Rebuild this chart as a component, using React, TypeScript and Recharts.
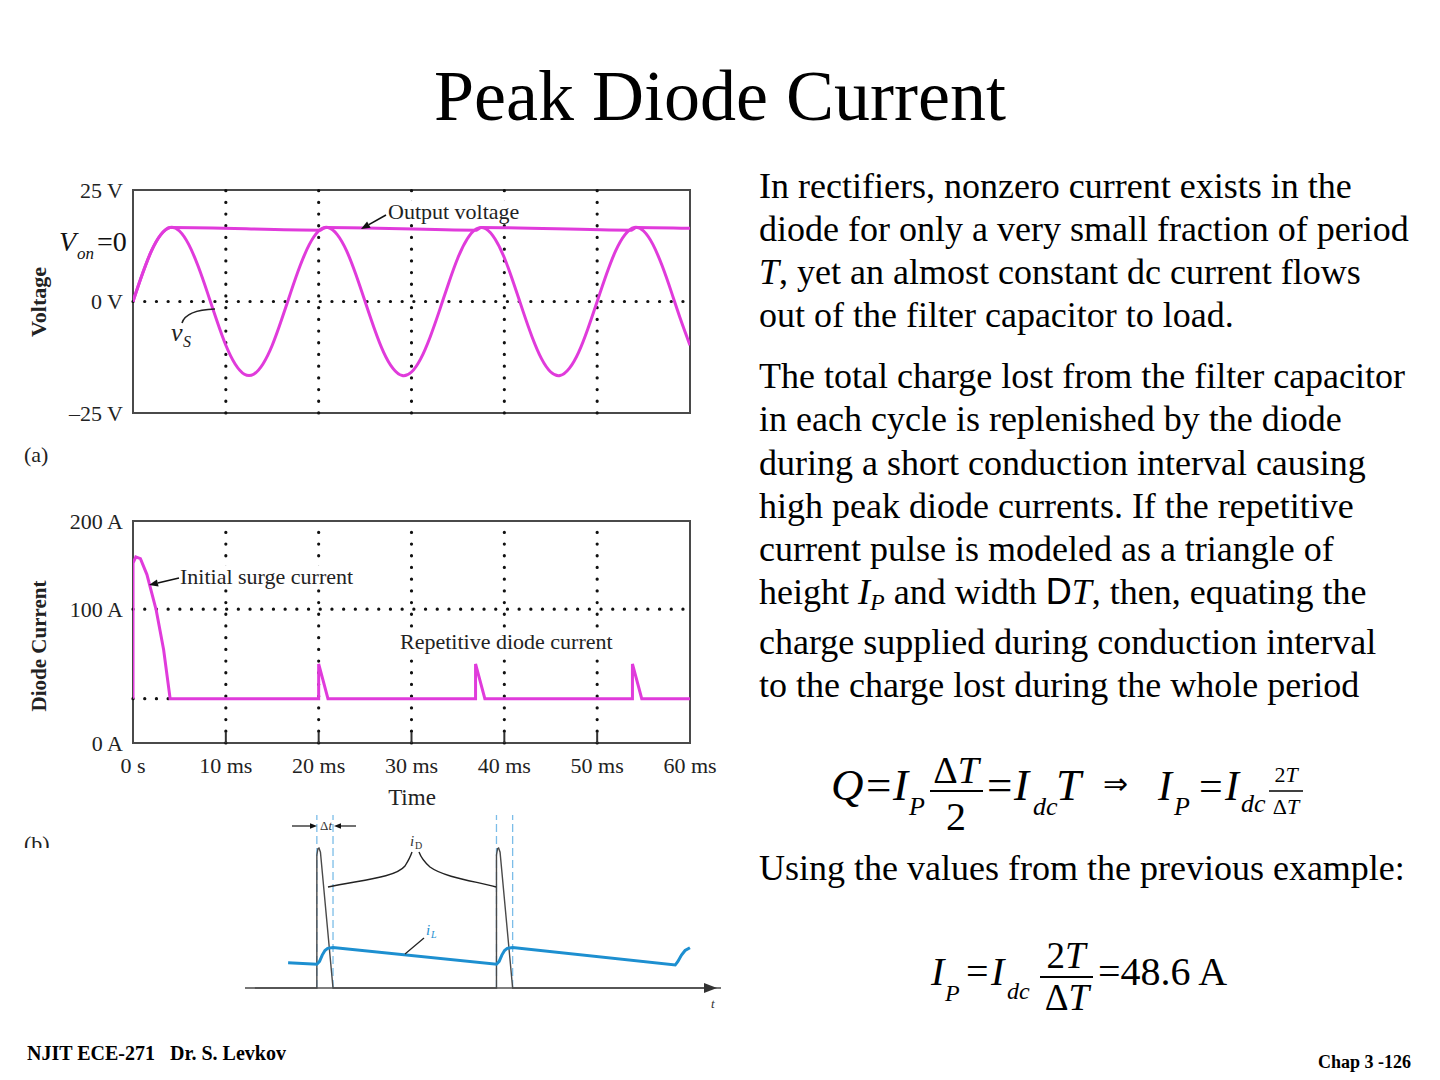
import React from 'react';
import { LineChart, Line, XAxis, YAxis, ReferenceLine, ReferenceArea } from 'recharts';

const MAGENTA = '#e03bdb';
const BLUE = '#1d8fd0';
const SERIF = '"Liberation Serif", "Times New Roman", serif';

// (a) voltage plot, source voltage sampled every 1 ms
const timeMs = [
  0, 1, 2, 3, 4, 5, 6, 7, 8, 9, 10, 11, 12, 13, 14, 15, 16, 17, 18, 19, 20,
  21, 22, 23, 24, 25, 26, 27, 28, 29, 30, 31, 32, 33, 34, 35, 36, 37, 38, 39, 40,
  41, 42, 43, 44, 45, 46, 47, 48, 49, 50, 51, 52, 53, 54, 55, 56, 57, 58, 59, 60,
];
const sourceVolts = [
  0, 6.1, 11.4, 15.0, 16.6, 15.8, 12.8, 8.0, 2.1, -4.1, -9.8, -14.0, -16.3, -16.3, -14.0, -9.8, -4.1, 2.1, 8.0, 12.8, 15.8,
  16.6, 15.0, 11.4, 6.1, 0, -6.1, -11.4, -15.0, -16.6, -15.8, -12.8, -8.0, -2.1, 4.1, 9.8, 14.0, 16.3, 16.3, 14.0, 9.8,
  4.1, -2.1, -8.0, -12.8, -15.8, -16.6, -15.0, -11.4, -6.1, 0, 6.1, 11.4, 15.0, 16.6, 15.8, 12.8, 8.0, 2.1, -4.1, -9.8,
];
const outputTimes = [0, 1, 2, 3, 4, 4.2, 20.2, 20.5, 20.8, 37.0, 37.3, 37.5, 53.7, 54.0, 54.2, 60];
const outputVolts = [0, 6.1, 11.4, 15.0, 16.6, 16.6, 16.0, 16.4, 16.6, 16.0, 16.4, 16.6, 16.0, 16.4, 16.6, 16.4];
const voltTicks = [-25, 0, 25];
const gridTimes = [10, 20, 30, 40, 50];
const timeTicks = [0, 10, 20, 30, 40, 50, 60];

// (b) diode current
const diodeTimes = [0, 0, 0.3, 0.8, 1.5, 2.5, 3.3, 4.0, 20.0, 20.0, 21.0, 36.9, 36.9, 37.9, 53.8, 53.8, 54.8, 60];
const diodeAmps = [22, 150, 157, 155, 137, 99, 61, 22, 22, 48.6, 22, 22, 48.6, 22, 22, 48.6, 22, 22];
const ampTicks = [0, 100, 200];
const baselineAmps = 22;
const bottomTickAmps = 3;

// (c) sketch of i_D pulses and load current i_L (time in periods)
const iDTimes = [-0.4, 0, 0, 0.006, 0.012, 0.02, 0.09, 1.0, 1.0, 1.006, 1.012, 1.02, 1.09, 2.25];
const iDValues = [0, 0, 0.95, 0.995, 1.0, 0.97, 0, 0, 0.95, 0.995, 1.0, 0.97, 0, 0];
const iLTimes = [-0.16, 0, 0.015, 0.03, 0.045, 0.06, 0.09, 1.0, 1.015, 1.03, 1.045, 1.06, 1.09, 1.995, 2.01, 2.03, 2.05, 2.077];
const iLValues = [0.18, 0.17, 0.19, 0.235, 0.268, 0.283, 0.29, 0.17, 0.19, 0.235, 0.268, 0.283, 0.29, 0.164, 0.19, 0.235, 0.268, 0.288];
const conductionEdges = [0, 0.09, 1.0, 1.09];

const zip = (xs: number[], ys: number[]) => xs.map((x, i) => ({ x, y: ys[i] }));

// power scale so 100 A sits where the original figure puts it
function powScale(exp: number): any {
  let dom = [0, 1];
  let rng = [0, 1];
  const s: any = (v: number) => {
    const t = (v - dom[0]) / (dom[1] - dom[0]);
    const p = Math.sign(t) * Math.pow(Math.abs(t), exp);
    return rng[0] + p * (rng[1] - rng[0]);
  };
  s.domain = (d?: number[]) => {
    if (d) { dom = [Number(d[0]), Number(d[d.length - 1])]; return s; }
    return dom.slice();
  };
  s.range = (r?: number[]) => {
    if (r) { rng = [Number(r[0]), Number(r[r.length - 1])]; return s; }
    return rng.slice();
  };
  s.invert = (px: number) => {
    const p = (px - rng[0]) / (rng[1] - rng[0]);
    return dom[0] + Math.sign(p) * Math.pow(Math.abs(p), 1 / exp) * (dom[1] - dom[0]);
  };
  s.ticks = () => ampTicks.slice();
  s.tickFormat = () => (v: number) => String(v);
  s.nice = () => s;
  s.clamp = () => s;
  s.copy = () => powScale(exp).domain(dom).range(rng);
  return s;
}

const tickStyle = { fill: '#222', fontSize: 22, fontFamily: SERIF };
const dotted = { stroke: '#111', strokeWidth: 3.2, strokeDasharray: '0.1 11.6', strokeLinecap: 'round' as const };

const VoltageChart = () => (
  <LineChart width={700} height={270} margin={{ top: 20, right: 30, bottom: 27, left: 33 }}>
    <XAxis type="number" dataKey="x" domain={[0, 60]} hide allowDataOverflow />
    <YAxis
      type="number"
      domain={[-25, 25]}
      ticks={voltTicks}
      width={80}
      axisLine={false}
      tickLine={false}
      tickSize={0}
      tickMargin={10}
      tick={tickStyle}
      tickFormatter={(v: number) => (v < 0 ? `\u2013${-v} V` : `${v} V`)}
      allowDataOverflow
    />
    {gridTimes.map((t) => (
      <ReferenceLine key={t} x={t} {...dotted} />
    ))}
    <ReferenceLine y={0} {...dotted} />
    <ReferenceArea x1={0} x2={60} y1={-25} y2={25} fill="none" stroke="#4a4a4a" strokeWidth={2} />
    <Line data={zip(timeMs, sourceVolts)} dataKey="y" type="natural" stroke={MAGENTA} strokeWidth={3} dot={false} isAnimationActive={false} />
    <Line data={zip(outputTimes, outputVolts)} dataKey="y" type="monotone" stroke={MAGENTA} strokeWidth={3} dot={false} isAnimationActive={false} />
  </LineChart>
);

const CurrentChart = () => (
  <LineChart width={710} height={320} margin={{ top: 21, right: 40, bottom: 17, left: 33 }}>
    <XAxis
      type="number"
      dataKey="x"
      domain={[0, 60]}
      ticks={timeTicks}
      height={60}
      axisLine={false}
      tickLine={false}
      tickSize={0}
      tickMargin={14}
      tick={tickStyle}
      tickFormatter={(v: number) => (v === 0 ? '0 s' : `${v} ms`)}
      allowDataOverflow
    />
    <YAxis
      type="number"
      domain={[0, 200]}
      scale={powScale(0.73)}
      ticks={ampTicks}
      width={80}
      axisLine={false}
      tickLine={false}
      tickSize={0}
      tickMargin={10}
      tick={tickStyle}
      tickFormatter={(v: number) => `${v} A`}
      allowDataOverflow
    />
    {gridTimes.map((t) => (
      <ReferenceLine key={t} x={t} {...dotted} />
    ))}
    {gridTimes.map((t) => (
      <ReferenceLine key={`tick${t}`} segment={[{ x: t, y: 0 }, { x: t, y: bottomTickAmps }]} stroke="#333" strokeWidth={2} />
    ))}
    <ReferenceLine y={100} {...dotted} />
    <ReferenceLine segment={[{ x: 0, y: baselineAmps }, { x: 4, y: baselineAmps }]} {...dotted} />
    <ReferenceArea x1={0} x2={60} y1={0} y2={200} fill="none" stroke="#4a4a4a" strokeWidth={2} />
    <Line data={zip(diodeTimes, diodeAmps)} dataKey="y" type="linear" stroke={MAGENTA} strokeWidth={3} dot={false} isAnimationActive={false} />
  </LineChart>
);

const SketchChart = () => (
  <LineChart width={476} height={203} margin={{ top: 0, right: 0, bottom: 0, left: 0 }}>
    <XAxis type="number" dataKey="x" domain={[-0.4, 2.25]} hide allowDataOverflow />
    <YAxis type="number" domain={[-0.15, 1.3]} hide allowDataOverflow />
    {conductionEdges.map((e) => (
      <ReferenceLine key={e} segment={[{ x: e, y: 0 }, { x: e, y: 1.236 }]} stroke="#7cbde8" strokeWidth={1.3} strokeDasharray="8 4" />
    ))}
    <ReferenceLine segment={[{ x: -0.345, y: 0 }, { x: 2.2, y: 0 }]} stroke="#555" strokeWidth={1.5} />
    <Line data={zip(iDTimes, iDValues)} dataKey="y" type="linear" stroke="#4a4a4a" strokeWidth={1.4} dot={false} isAnimationActive={false} />
    <Line data={zip(iLTimes, iLValues)} dataKey="y" type="linear" stroke={BLUE} strokeWidth={3} dot={false} isAnimationActive={false} />
  </LineChart>
);

const abs = (left: number, top: number): React.CSSProperties => ({ position: 'absolute', left, top });

const Arrow = ({ x1, y1, x2, y2, size = 9, w = 1.6 }: { x1: number; y1: number; x2: number; y2: number; size?: number; w?: number }) => {
  const a = Math.atan2(y2 - y1, x2 - x1);
  const bx = x2 - size * Math.cos(a);
  const by = y2 - size * Math.sin(a);
  const px = Math.sin(a) * size * 0.4;
  const py = -Math.cos(a) * size * 0.4;
  return (
    <g>
      <line x1={x1} y1={y1} x2={bx} y2={by} stroke="#111" strokeWidth={w} />
      <polygon points={`${x2},${y2} ${bx + px},${by + py} ${bx - px},${by - py}`} fill="#111" />
    </g>
  );
};

// annotation label with a white box behind it, as in the scanned figure
const Label = ({ x, y, w, text }: { x: number; y: number; w: number; text: string }) => (
  <g>
    <rect x={x - 2} y={y - 18} width={w} height={23} fill="#fff" />
    <text x={x} y={y} fontSize={22} fill="#222">{text}</text>
  </g>
);

const Overlay = () => (
  <svg width={1440} height={1080} style={{ position: 'absolute', left: 0, top: 0, pointerEvents: 'none' }} fontFamily={SERIF}>
    <defs>
      <clipPath id="cutb">
        <rect x={0} y={0} width={240} height={848} />
      </clipPath>
    </defs>
    {/* title */}
    <text x={720} y={120} fontSize={72} textAnchor="middle" fill="#000">Peak Diode Current</text>

    {/* (a) annotations */}
    <text x={46} y={302} fontSize={22} fontWeight="bold" textAnchor="middle" transform="rotate(-90 46 302)" fill="#222">Voltage</text>
    <Label x={388} y={219} w={136} text="Output voltage" />
    <Arrow x1={386} y1={215} x2={361} y2={229} />
    <text x={59} y={251} fontSize={28} fontStyle="italic" fill="#111">V</text>
    <text x={77} y={259} fontSize={17} fontStyle="italic" fill="#111">on</text>
    <text x={97} y={251} fontSize={28} fill="#111">=0</text>
    <text x={171} y={341} fontSize={26} fontStyle="italic" fill="#222">v</text>
    <text x={183} y={347} fontSize={16} fontStyle="italic" fill="#222">S</text>
    <path d="M 182 323 Q 186 310 215 309" fill="none" stroke="#222" strokeWidth={1.6} />
    <text x={24} y={462} fontSize={22} fill="#222">(a)</text>

    {/* (b) annotations */}
    <text x={46} y={646} fontSize={21} fontWeight="bold" textAnchor="middle" transform="rotate(-90 46 646)" fill="#222">Diode Current</text>
    <Label x={180} y={584} w={178} text="Initial surge current" />
    <Arrow x1={179} y1={578} x2={149} y2={585} />
    <Label x={400} y={649} w={217} text="Repetitive diode current" />
    <text x={412} y={805} fontSize={23} textAnchor="middle" fill="#222">Time</text>
    <text x={24} y={851} fontSize={22} fill="#222" clipPath="url(#cutb)">(b)</text>

    {/* (c) annotations */}
    <Arrow x1={292} y1={826} x2={317} y2={826} size={7} w={1.2} />
    <Arrow x1={356} y1={826} x2={334} y2={826} size={7} w={1.2} />
    <text x={320} y={830} fontSize={13} fill="#333">
      Δ<tspan fontStyle="italic">t</tspan>
    </text>
    <text x={410} y={846} fontSize={15} fontStyle="italic" fill="#333">i</text>
    <text x={415} y={849} fontSize={10} fill="#333">D</text>
    <path d="M 328 887 C 360 880 395 878 405 866 Q 410 858 412 852 M 419 852 Q 422 860 430 867 C 445 878 480 882 496 887" fill="none" stroke="#222" strokeWidth={1.4} />
    <text x={426} y={935} fontSize={15} fontStyle="italic" fill={BLUE}>i</text>
    <text x={431} y={938} fontSize={10} fontStyle="italic" fill={BLUE}>L</text>
    <line x1={424} y1={938} x2={405} y2={954} stroke="#222" strokeWidth={1.3} />
    <polygon points="704,983 717,988 704,993" fill="#333" />
    <text x={711} y={1008} fontSize={13} fontStyle="italic" fill="#333">t</text>

    {/* right-hand text */}
    <g fontSize={36} fill="#000">
      <text x={759} y={198}>In rectifiers, nonzero current exists in the</text>
      <text x={759} y={241}>diode for only a very small fraction of period</text>
      <text x={759} y={284}><tspan fontStyle="italic">T</tspan>, yet an almost constant dc current flows</text>
      <text x={759} y={327}>out of the filter capacitor to load.</text>
      <text x={759} y={388}>The total charge lost from the filter capacitor</text>
      <text x={759} y={431}>in each cycle is replenished by the diode</text>
      <text x={759} y={475}>during a short conduction interval causing</text>
      <text x={759} y={518}>high peak diode currents. If the repetitive</text>
      <text x={759} y={561}>current pulse is modeled as a triangle of</text>
      <text x={759} y={604}>
        height <tspan fontStyle="italic">I</tspan>
        <tspan fontStyle="italic" fontSize={24} dy={6}>P</tspan>
        <tspan dy={-6}> and width </tspan>
        <tspan fontFamily='"Liberation Sans", Arial, sans-serif'>D</tspan>
        <tspan fontStyle="italic">T</tspan>, then, equating the
      </text>
      <text x={759} y={654}>charge supplied during conduction interval</text>
      <text x={759} y={697}>to the charge lost during the whole period</text>
      <text x={759} y={880}>Using the values from the previous example:</text>
    </g>

    {/* equation 1 */}
    <g fill="#000">
      <text x={831} y={800} fontSize={45} fontStyle="italic">Q</text>
      <text x={866} y={800} fontSize={45}>=</text>
      <text x={893} y={800} fontSize={45} fontStyle="italic">I</text>
      <text x={909} y={815} fontSize={26} fontStyle="italic">P</text>
      <text x={956} y={783} fontSize={38} textAnchor="middle">Δ<tspan fontStyle="italic">T</tspan></text>
      <line x1={930} y1={791} x2={983} y2={791} stroke="#000" strokeWidth={2} />
      <text x={956} y={830} fontSize={40} textAnchor="middle">2</text>
      <text x={987} y={800} fontSize={45}>=</text>
      <text x={1014} y={800} fontSize={45} fontStyle="italic">I</text>
      <text x={1033} y={815} fontSize={26} fontStyle="italic">dc</text>
      <text x={1056} y={800} fontSize={45} fontStyle="italic">T</text>
      <text x={1103} y={794} fontSize={30}>⇒</text>
      <text x={1158} y={800} fontSize={42} fontStyle="italic">I</text>
      <text x={1174} y={815} fontSize={26} fontStyle="italic">P</text>
      <text x={1199} y={800} fontSize={42}>=</text>
      <text x={1225} y={800} fontSize={42} fontStyle="italic">I</text>
      <text x={1241} y={812} fontSize={26} fontStyle="italic">dc</text>
      <text x={1286} y={782} fontSize={22} textAnchor="middle">2<tspan fontStyle="italic">T</tspan></text>
      <line x1={1269} y1={791} x2={1303} y2={791} stroke="#000" strokeWidth={1.5} />
      <text x={1286} y={814} fontSize={22} textAnchor="middle">Δ<tspan fontStyle="italic">T</tspan></text>
    </g>

    {/* equation 2 */}
    <g fill="#000">
      <text x={931} y={985} fontSize={40} fontStyle="italic">I</text>
      <text x={945} y={1001} fontSize={24} fontStyle="italic">P</text>
      <text x={966} y={985} fontSize={40}>=</text>
      <text x={991} y={985} fontSize={40} fontStyle="italic">I</text>
      <text x={1007} y={999} fontSize={24} fontStyle="italic">dc</text>
      <text x={1066} y={968} fontSize={37} textAnchor="middle">2<tspan fontStyle="italic">T</tspan></text>
      <line x1={1040} y1={977} x2={1093} y2={977} stroke="#000" strokeWidth={2} />
      <text x={1067} y={1010} fontSize={37} textAnchor="middle">Δ<tspan fontStyle="italic">T</tspan></text>
      <text x={1098} y={985} fontSize={40}>=48.6 A</text>
    </g>

    {/* footer */}
    <text x={27} y={1060} fontSize={20} fontWeight="bold" fill="#000" style={{ whiteSpace: 'pre' }}>NJIT ECE-271   Dr. S. Levkov</text>
    <text x={1318} y={1068} fontSize={18} fontWeight="bold" fill="#000">Chap 3 -126</text>
  </svg>
);

export default function App() {
  return (
    <div style={{ position: 'absolute', left: 0, top: 0, width: 1440, height: 1080, background: '#fff', overflow: 'hidden', fontFamily: SERIF }}>
      <div style={abs(20, 170)}>
        <VoltageChart />
      </div>
      <div style={abs(20, 500)}>
        <CurrentChart />
      </div>
      <div style={abs(245, 806)}>
        <SketchChart />
      </div>
      <Overlay />
    </div>
  );
}
